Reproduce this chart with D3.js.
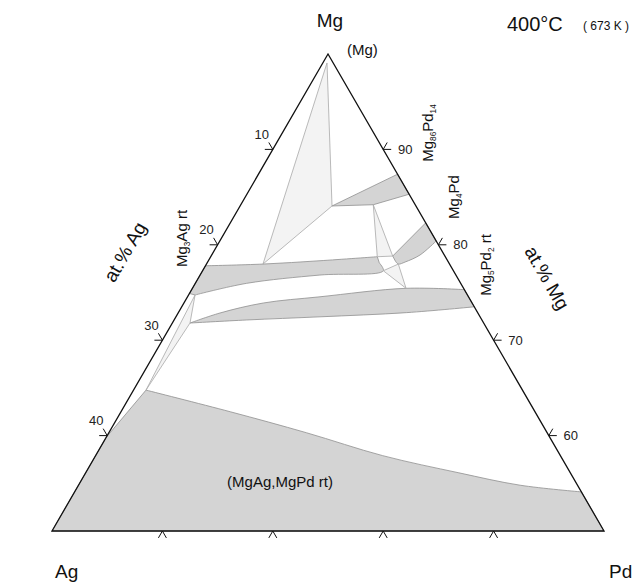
<!DOCTYPE html>
<html><head><meta charset="utf-8">
<script src="https://cdn.jsdelivr.net/npm/d3@7"></script>
<style>
body{margin:0;background:#fff;}
svg{display:block;font-family:"Liberation Sans",Arial,Helvetica,sans-serif;}
</style>
</head><body>
<svg id="chart" width="635" height="585"></svg>
<script>
// ---- Data: compositions as [at.% Pd, at.% Ag]; Mg = 100 - Pd - Ag ----
const leftTicks = [10, 20, 30, 40];     // at.% Ag on Mg–Ag side
const rightTicks = [90, 80, 70, 60];    // at.% Mg on Mg–Pd side
const bottomTicks = [10, 20, 30, 40];   // at.% Pd on the Mg50 line
const corners = [[0, 0], [0, 50], [50, 0]];

// (MgAg,MgPd rt) region: left edge, curved upper boundary, then the Mg50 corners
const mgAgMgPdLeft = [[0,40.2],[1.13,34.1]];
const mgAgMgPdBoundary = [[1.13,34.1],[9.9,27.6],[17.9,21.8],[26.0,16.1],[33.8,10.1],[40.0,5.2],[45.9,0]];
const mgAgMgPdCorners = [[50,0],[0,50]];

// phase bands: upper edge (left->right) and lower edge (right->left)
const mg3AgUpper = [[0,22.2],[5.12,16.9],[10.11,11.56],[15.09,6.16]];
const mg3AgLower = [[15.6,6.3],[16.37,6.35],[10.86,12.31],[4.65,19.39],[0.59,24.67]];
const mg3AgAxisEnd = [[0,25.1]];
const mg86Pd14Upper = [[12.6,0],[8.33,7.6]];
const mg86Pd14Lower = [[12.0,3.8],[14.7,0]];
const mg4PdUpper = [[17.7,0],[16.45,4.73]];
const mg4PdLower = [[16.95,4.75],[17.38,4.64],[17.88,3.93],[18.87,2.2],[19.6,0]];
const mg5Pd2Upper = [[1.6,26.6],[3.79,23.36],[7.2,18.9],[12.0,13.45],[19.35,5.21],[24.7,0]];
const mg5Pd2Lower = [[26.5,0],[20.68,6.43],[13.05,14.5],[6.58,21.3],[1.6,26.6]];

// three-phase triangles (light)
const triMg = [[0.38,0.56],[8.33,7.6],[5.12,16.9]];
const triA = [[12.0,3.8],[15.09,6.16],[16.45,4.73]];
const triB = [[16.37,6.35],[17.38,4.64],[19.35,5.21]];
const triC = [[0.59,24.67],[1.6,26.6],[1.13,34.1]];
const lightRegions = [triMg, triA, triB, triC];

// ---- Scales / projection ----
const svg = d3.select("#chart");
const yScale = d3.scaleLinear().domain([100, 50]).range([54, 531]);   // at.% Mg
const xScale = d3.scaleLinear().domain([-50, 50]).range([52, 604]);   // Pd - Ag
const proj = ([pd, ag]) => [xScale(pd - ag), yScale(100 - pd - ag)];
const poly = d3.line().curve(d3.curveLinearClosed);
const smooth = d3.line().curve(d3.curveCatmullRom.alpha(0.5));
const straight = d3.line();
const cont = s => s.replace(/^M/, "L");

function bandPath(upper, lower, extra) {
  let d = smooth(upper.map(proj)) + cont(smooth(lower.map(proj)));
  if (extra) d += cont(straight(extra.map(proj)));
  return d + "Z";
}

const greyPaths = [
  straight(mgAgMgPdLeft.map(proj)) + cont(smooth(mgAgMgPdBoundary.map(proj))) +
    cont(straight(mgAgMgPdCorners.map(proj))) + "Z",
  bandPath(mg3AgUpper, mg3AgLower, mg3AgAxisEnd),
  bandPath(mg86Pd14Upper, mg86Pd14Lower),
  bandPath(mg4PdUpper, mg4PdLower),
  bandPath(mg5Pd2Upper, mg5Pd2Lower)
];

svg.append("g").selectAll("path").data(greyPaths).join("path")
  .attr("d", d => d)
  .attr("fill", "#d4d4d4").attr("stroke", "#8f8f8f").attr("stroke-width", 0.8);

svg.append("g").selectAll("path").data(lightRegions).join("path")
  .attr("d", d => poly(d.map(proj)))
  .attr("fill", "#f3f3f3").attr("stroke", "#a8a8a8").attr("stroke-width", 0.8);

// triangle outline
svg.append("path").attr("d", poly(corners.map(proj)))
  .attr("fill", "none").attr("stroke", "#111").attr("stroke-width", 1.3);

// ticks
const L = 8, c60 = Math.sqrt(3) / 2;
const tickG = svg.append("g").attr("stroke", "#111").attr("stroke-width", 1).attr("fill", "none");
function chevron(p, a1, a2) {
  return `M${p[0] + a1[0] * L},${p[1] + a1[1] * L}L${p[0]},${p[1]}L${p[0] + a2[0] * L},${p[1] + a2[1] * L}`;
}
leftTicks.forEach(v => {
  const p = proj([0, v]);
  tickG.append("path").attr("d", chevron(p, [-1, 0], [-0.5, -c60]));
});
rightTicks.forEach(v => {
  const p = proj([100 - v, 0]);
  tickG.append("path").attr("d", chevron(p, [1, 0], [0.5, -c60]));
});
bottomTicks.forEach(v => {
  const p = proj([v, 50 - v]);
  tickG.append("path").attr("d", chevron(p, [-0.5, c60], [0.5, c60]));
});

// tick labels
const tl = svg.append("g").attr("font-size", 13).attr("fill", "#222")
  .attr("text-anchor", "middle").attr("dominant-baseline", "central");
leftTicks.forEach(v => {
  const p = proj([0, v]);
  tl.append("text").attr("x", p[0] - 11).attr("y", p[1] - 15).text(v);
});
rightTicks.forEach(v => {
  const p = proj([100 - v, 0]);
  tl.append("text").attr("x", p[0] + 22).attr("y", p[1]).text(v);
});

// titles and labels
function txt(x, y, s, size, anchor) {
  return svg.append("text").attr("x", x).attr("y", y).attr("font-size", size)
    .attr("text-anchor", anchor || "start").attr("fill", "#111").text(s);
}
txt(330, 27, "Mg", 19, "middle");
txt(507, 31, "400°C", 20);
txt(583, 30, "( 673 K )", 12);
txt(347, 55, "(Mg)", 15);
txt(55, 578, "Ag", 19);
txt(609, 578, "Pd", 19);
txt(280, 487, "(MgAg,MgPd rt)", 15, "middle");

svg.append("text").attr("transform", "translate(125,252) rotate(-60)")
  .attr("text-anchor", "middle").attr("dominant-baseline", "central")
  .attr("font-size", 19).attr("fill", "#111").text("at.% Ag");
svg.append("text").attr("transform", "translate(547,278) rotate(60)")
  .attr("text-anchor", "middle").attr("dominant-baseline", "central")
  .attr("font-size", 19).attr("fill", "#111").text("at.% Mg");

// rotated phase labels with subscripts
function phaseLabel(x, y, parts, size) {
  const t = svg.append("text").attr("transform", `translate(${x},${y}) rotate(-90)`)
    .attr("text-anchor", "middle").attr("font-size", size).attr("fill", "#111");
  let sub = false;
  parts.forEach(([s, isSub]) => {
    const sp = t.append("tspan").text(s);
    if (isSub && !sub) { sp.attr("dy", 3).attr("font-size", size * 0.55); sub = true; }
    else if (isSub) { sp.attr("font-size", size * 0.55); }
    else if (sub) { sp.attr("dy", -3); sub = false; }
  });
}
phaseLabel(186.5, 238.5, [["Mg"], ["3", true], ["Ag rt"]], 15);
phaseLabel(433, 133, [["Mg"], ["86", true], ["Pd"], ["14", true]], 15);
phaseLabel(458.5, 197, [["Mg"], ["4", true], ["Pd"]], 15);
phaseLabel(490.5, 265, [["Mg"], ["5", true], ["Pd"], ["2", true], [" rt"]], 15);
</script>
</body></html>
